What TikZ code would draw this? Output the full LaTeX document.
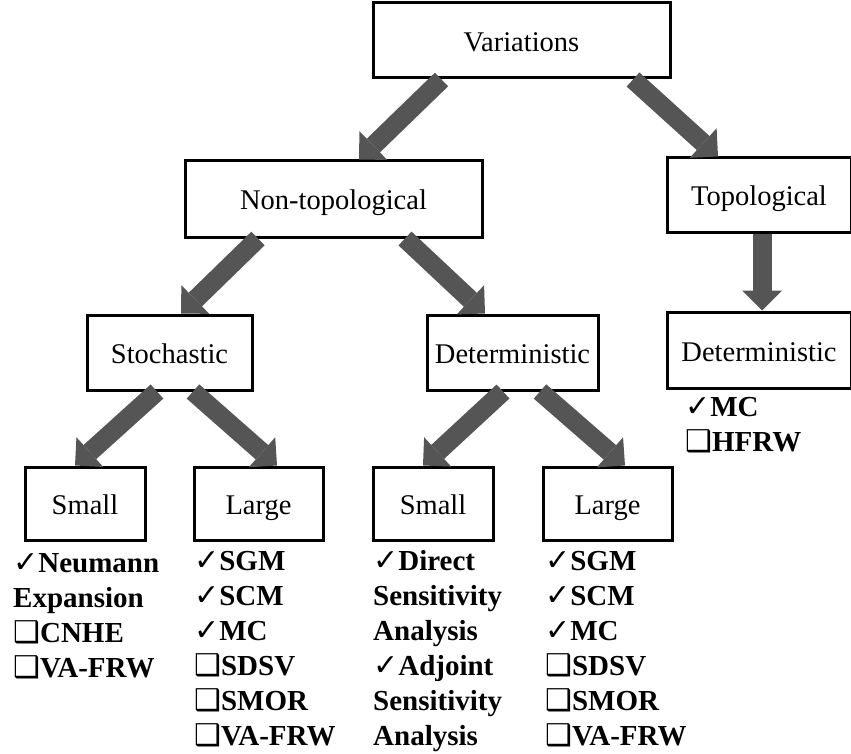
\documentclass[tikz,border=0pt]{standalone}
\usepackage{fontspec}
\setmainfont{Liberation Serif}
\newfontfamily\symfont{DejaVu Sans}
\usetikzlibrary{arrows.meta}
\definecolor{arrowfill}{HTML}{555555}
% check mark and open square used in the method lists
\newcommand{\ck}{{\symfont\fontsize{30}{35}\selectfont ✓}}
\newcommand{\bx}{{\symfont\fontsize{30}{35}\selectfont ❑}}

\tikzset{
  box/.style={draw, line width=3pt, fill=white, inner sep=0pt,
              text height=25pt, text depth=3pt,
              font=\fontsize{28.5}{34}\selectfont},
  flow/.style={line width=19pt, draw=arrowfill,
               -{Triangle[width=40pt,length=20pt,line width=0pt]}},
  items/.style={anchor=north west, inner sep=0pt, align=left,
                font=\bfseries\fontsize{29}{35}\selectfont},
}

\begin{document}
\begin{tikzpicture}[x=1pt,y=-1pt]
\useasboundingbox (0,0) rectangle (851,754);

% boxes
\node[box, minimum width=297pt, minimum height=75pt] (var)    at (521.5,40.5) {Variations};
\node[box, minimum width=297pt, minimum height=76pt] (nontop) at (333.5,199)  {Non-topological};
\node[box, minimum width=184pt, minimum height=74pt] (top)    at (759,195)    {Topological};
\node[box, minimum width=165pt, minimum height=75pt] (stoch)  at (169.5,352.5) {Stochastic};
\node[box, minimum width=171pt, minimum height=75pt] (detm)   at (512.5,352.5) {Deterministic};
\node[box, minimum width=184pt, minimum height=76pt] (detr)   at (759,350)    {Deterministic};
\node[box, minimum width=120pt, minimum height=73pt] (smallL) at (85,503.5)   {Small};
\node[box, minimum width=129pt, minimum height=73pt] (largeL) at (258.5,503.5) {Large};
\node[box, minimum width=120pt, minimum height=73pt] (smallM) at (433,503.5)  {Small};
\node[box, minimum width=129pt, minimum height=73pt] (largeM) at (607.5,503.5) {Large};

% block arrows
\draw[flow] ([xshift=-80pt]var.south)    -- ([xshift=25.5pt]nontop.north);
\draw[flow] ([xshift=111.5pt]var.south)  -- ([xshift=-41pt]top.north);
\draw[flow] ([xshift=-75.5pt]nontop.south) -- ([xshift=11.5pt]stoch.north);
\draw[flow] ([xshift=71.5pt]nontop.south)  -- ([xshift=-27.5pt]detm.north);
\draw[flow] ([xshift=3pt]top.south)      -- ([xshift=3pt]detr.north);
\draw[flow] ([xshift=-12.5pt]stoch.south) -- ([xshift=-10pt]smallL.north);
\draw[flow] ([xshift=23.5pt]stoch.south)  -- ([xshift=18.5pt]largeL.north);
\draw[flow] ([xshift=-9.5pt]detm.south)   -- ([xshift=-10pt]smallM.north);
\draw[flow] ([xshift=27.5pt]detm.south)   -- ([xshift=17.5pt]largeM.north);

% method lists
\node[items] (listSL) at (13,547.5)  {\strut\ck Neumann\\Expansion\\\bx CNHE\\\bx VA-FRW};
\node[items] (listLL) at (194,545.5) {\strut\ck SGM\\\ck SCM\\\ck MC\\\bx SDSV\\\bx SMOR\\\bx VA-FRW};
\node[items] (listSM) at (373,545.5) {\strut\ck Direct\\Sensitivity\\Analysis\\\ck Adjoint\\Sensitivity\\Analysis};
\node[items] (listLM) at (545,545.5) {\strut\ck SGM\\\ck SCM\\\ck MC\\\bx SDSV\\\bx SMOR\\\bx VA-FRW};
\node[items] (listDR) at (685,391.5) {\strut\ck MC\\\bx HFRW};
\end{tikzpicture}
\end{document}
